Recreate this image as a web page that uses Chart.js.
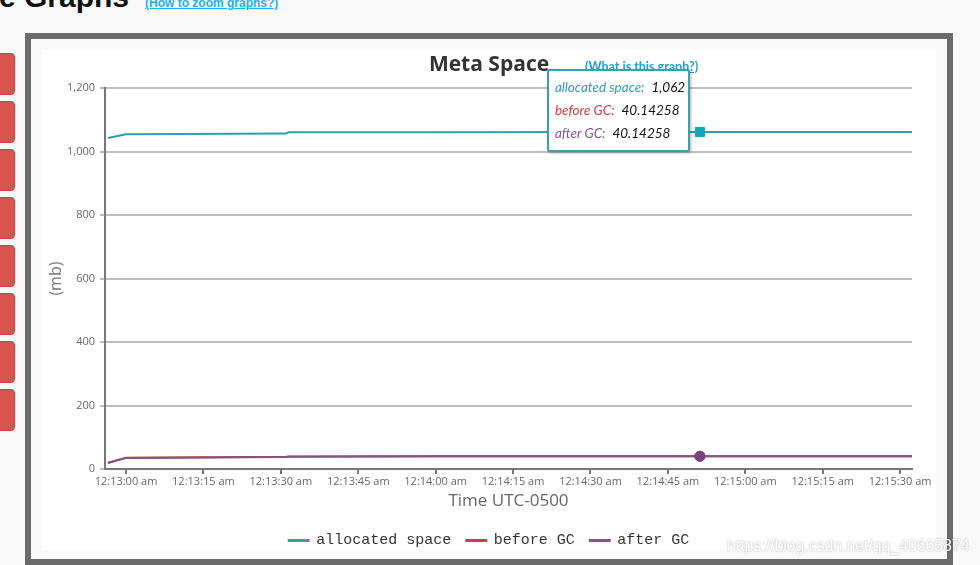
<!DOCTYPE html>
<html>
<head>
<meta charset="utf-8">
<script src="https://cdn.jsdelivr.net/npm/chart.js@4.4.1/dist/chart.umd.min.js"></script>
<style>
html, body { margin:0; padding:0; }
body { width:980px; height:565px; overflow:hidden; background:#f9f9f9; position:relative; font-family:"Liberation Sans", Arial, sans-serif; }
#pageTitle { position:absolute; left:-1px; top:-18px; font-size:30px; line-height:30px; font-weight:bold; color:#111; white-space:nowrap; }
#zoomHelp { position:absolute; left:145px; top:-2px; font-size:12px; line-height:11px; font-weight:bold; color:#17b3ee; text-decoration:underline; white-space:nowrap; }
.btn { position:absolute; left:-6px; width:21px; height:42px; background:#d9534f; border:1px solid #c8443f; border-radius:4px; box-sizing:border-box; }
#frame { position:absolute; left:25px; top:33px; width:928px; height:532px; border:6px solid #6b6b6b; box-sizing:border-box; background:#f9f9f9; }
#panel { position:absolute; left:42px; top:50px; width:894px; height:500px; background:#fff; }
#chart { position:absolute; left:0; top:0; }
#whatLink { position:absolute; left:543px; top:9px; font-family:Lato, sans-serif; font-size:12.5px; font-weight:bold; color:#1ba3d8; text-decoration:underline; white-space:nowrap; }
#tip { position:absolute; display:none; background:#fff; border:2px solid #3aa0ae; border-radius:3px; box-shadow:1px 1px 3px rgba(0,0,0,0.3); padding:5px 3px 5px 6px; font-family:Lato, sans-serif; font-style:italic; font-size:13.5px; line-height:23px; white-space:nowrap; }
#tip .val { color:#111; margin-left:7px; }
#mark { position:absolute; left:727px; top:537px; font-size:15.8px; color:#fff; text-shadow:0 0 2px rgba(0,0,0,0.35); white-space:nowrap; }
</style>
</head>
<body>
<div id="pageTitle">e Graphs</div>
<div id="zoomHelp">(How to zoom graphs?)</div>
<div class="btn" style="top:53px"></div>
<div class="btn" style="top:101px"></div>
<div class="btn" style="top:149px"></div>
<div class="btn" style="top:197px"></div>
<div class="btn" style="top:245px"></div>
<div class="btn" style="top:293px"></div>
<div class="btn" style="top:341px"></div>
<div class="btn" style="top:389px"></div>
<div id="frame"></div>
<div id="panel">
  <canvas id="chart" width="894" height="500"></canvas>
  <div id="whatLink">(What is this graph?)</div>
  <div id="tip"></div>
</div>
<div id="mark">https://blog.csdn.net/qq_40665874</div>
<script>
// seconds after 12:13:00 am
var times = [-3.5, 0, 31, 31.5, 60, 90, 111.2, 130, 152.3]
var allocatedSpace = [1043, 1055, 1057, 1061, 1061.5, 1062, 1062, 1062, 1062]
var beforeGC = [20, 35.5, 38.8, 39.2, 40, 40.14258, 40.14258, 40.14258, 40.14258]
var afterGC = [19, 35, 38.2, 38.6, 39.9, 40.14258, 40.14258, 40.14258, 40.14258]
var xTickLabels = ['12:13:00 am', '12:13:15 am', '12:13:30 am', '12:13:45 am', '12:14:00 am', '12:14:15 am',
                   '12:14:30 am', '12:14:45 am', '12:15:00 am', '12:15:15 am', '12:15:30 am']
var hoverIndex = 6

var tickFont = { family: "'Open Sans', sans-serif", size: 11 }

function pts(values) {
  return times.map((t, i) => ({ x: t, y: values[i] }))
}

function fmt(v) {
  return v.toLocaleString('en-US', { maximumFractionDigits: 5 })
}

function externalTooltip(context) {
  var tt = context.tooltip
  var el = document.getElementById('tip')
  if (tt.opacity === 0 || !tt.dataPoints || !tt.dataPoints.length) { el.style.display = 'none'; return }
  var html = ''
  tt.dataPoints.forEach(dp => {
    html += "<div><span style='color:" + dp.dataset.borderColor + "'>" + dp.dataset.label + ":</span><span class='val'>" + fmt(dp.raw.y) + "</span></div>"
  })
  el.innerHTML = html
  el.style.display = 'block'
  var anchor = tt.dataPoints[0].element
  el.style.left = (anchor.x - 153) + 'px'
  el.style.top = (anchor.y - 63) + 'px'
}

var chart = new Chart(document.getElementById('chart'), {
  type: 'line',
  data: {
    datasets: [
      { label: 'allocated space', data: pts(allocatedSpace), borderColor: '#2f9fae', backgroundColor: '#2f9fae',
        borderWidth: 2, pointRadius: 0, pointHoverRadius: 6.5, pointStyle: 'rect', pointHoverBorderWidth: 1, order: 2 },
      { label: 'before GC', data: pts(beforeGC), borderColor: '#d33d3d', backgroundColor: '#d33d3d',
        borderWidth: 2, pointRadius: 0, pointHoverRadius: 5, pointHoverBorderWidth: 1, order: 1 },
      { label: 'after GC', data: pts(afterGC), borderColor: '#7c5688', backgroundColor: '#7c5688',
        borderWidth: 2, pointRadius: 0, pointHoverRadius: 5, pointHoverBorderWidth: 1, order: 0 }
    ]
  },
  options: {
    responsive: false,
    animation: false,
    events: [],
    layout: { padding: { top: 0, left: 0, right: 0, bottom: -8 } },
    scales: {
      x: {
        type: 'linear', min: -4.07, max: 152.3,
        afterFit: s => { s.height = 49 },
        ticks: { stepSize: 15, includeBounds: false, autoSkip: false, maxRotation: 0, padding: 1,
                 font: tickFont, color: '#666',
                 callback: v => xTickLabels[Math.round(v / 15)] || '' },
        grid: { drawOnChartArea: false, tickLength: 5, color: '#777', lineWidth: 2 },
        border: { color: '#777', width: 2 },
        title: { display: true, text: 'Time UTC-0500', color: '#666', padding: { top: 0, bottom: 7 },
                 font: { family: "'Open Sans', sans-serif", size: 17 } }
      },
      y: {
        min: 0, max: 1200,
        afterFit: s => { s.width = 63 },
        ticks: { stepSize: 200, padding: 5, font: tickFont, color: '#666', callback: v => fmt(v) },
        grid: { color: '#bdbdbd', lineWidth: 2, tickLength: 5 },
        border: { color: '#777', width: 2 },
        title: { display: true, text: '(mb)', color: '#777', padding: { top: 5, bottom: 0 },
                 font: { family: "'Open Sans', sans-serif", size: 16 } }
      },
      // empty right-hand gutter so the title stays centred on the whole panel
      gutter: {
        type: 'linear', position: 'right', display: true,
        afterFit: s => { s.width = 24 },
        ticks: { display: false }, grid: { display: false }, border: { display: false }
      }
    },
    plugins: {
      title: { display: true, text: 'Meta Space', color: '#333', padding: { top: 2, bottom: 11 },
               font: { family: "'Open Sans', sans-serif", size: 21, weight: 'bold' } },
      legend: { position: 'bottom',
                labels: { color: '#333', boxWidth: 20, boxHeight: 1, padding: 15,
                          sort: (a, b) => a.datasetIndex - b.datasetIndex,
                          font: { family: "'Liberation Mono', monospace", size: 15 } } },
      tooltip: { enabled: false, mode: 'index', intersect: false, external: externalTooltip }
    }
  }
})

var active = [0, 1, 2].map(d => ({ datasetIndex: d, index: hoverIndex }))
chart.setActiveElements(active)
chart.update('none')
var el0 = chart.getDatasetMeta(0).data[hoverIndex]
chart.tooltip.setActiveElements(active, { x: el0.x, y: el0.y })
</script>
</body>
</html>
